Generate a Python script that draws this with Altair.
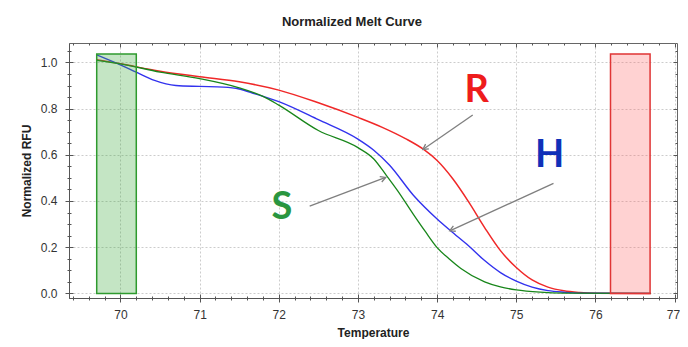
import altair as alt
import pandas as pd

FONT = "Liberation Sans"

# ---- data ----
series = ["R", "H", "S"]

red_t = [69.7, 70.0, 70.5, 71.0, 71.5, 72.0, 72.5, 73.0, 73.3, 73.6, 73.83, 74.0, 74.2, 74.4,
         74.6, 74.8, 75.0, 75.2, 75.4, 75.6, 75.8, 76.0, 76.7]
red_v = [1.012, 0.994, 0.962, 0.938, 0.916, 0.880, 0.825, 0.762, 0.720, 0.670, 0.623, 0.575,
         0.495, 0.395, 0.285, 0.185, 0.112, 0.058, 0.027, 0.011, 0.004, 0.001, 0.0]

blue_t = [69.7, 69.97, 70.2, 70.43, 70.7, 71.0, 71.3, 71.5, 71.7, 72.0, 72.5, 73.0, 73.2, 73.4,
          73.7, 74.0, 74.17, 74.4, 74.6, 74.8, 75.0, 75.2, 75.4, 75.6, 75.8, 76.7]
blue_v = [1.033, 0.994, 0.958, 0.922, 0.900, 0.896, 0.893, 0.885, 0.864, 0.830, 0.752, 0.668,
          0.620, 0.555, 0.425, 0.322, 0.271, 0.205, 0.142, 0.090, 0.053, 0.027, 0.012, 0.005,
          0.001, 0.0]

green_t = [69.7, 70.0, 70.5, 71.0, 71.5, 71.8, 72.0, 72.5, 73.0, 73.2, 73.35, 73.5, 73.7, 73.85,
           74.0, 74.15, 74.3, 74.6, 74.8, 75.0, 75.3, 75.6, 76.7]
green_v = [1.009, 0.994, 0.958, 0.930, 0.890, 0.853, 0.815, 0.705, 0.631, 0.582, 0.515, 0.445,
           0.342, 0.268, 0.198, 0.150, 0.108, 0.050, 0.028, 0.015, 0.005, 0.001, 0.0]

# analysis windows (shaded boxes)
win_name = ["low", "high"]
win_lo = [69.70, 76.19]
win_hi = [70.20, 76.69]
win_top = [1.036, 1.036]
win_bottom = [0.0, 0.0]

# annotation labels and arrows
lab_name = ["R", "H", "S"]
lab_t = [74.50, 75.42, 72.04]
lab_v = [0.876, 0.594, 0.369]
arr_t0 = [74.45, 75.47, 72.39]
arr_v0 = [0.772, 0.476, 0.378]
arr_t1 = [73.82, 74.16, 73.35]
arr_v1 = [0.623, 0.271, 0.502]
arr_angle = [235.7, 245.5, 69.3]

x_major = [70, 71, 72, 73, 74, 75, 76, 77]
x_minor = [69.4, 69.6, 69.8, 70.2, 70.4, 70.6, 70.8, 71.2, 71.4, 71.6, 71.8, 72.2, 72.4, 72.6,
           72.8, 73.2, 73.4, 73.6, 73.8, 74.2, 74.4, 74.6, 74.8, 75.2, 75.4, 75.6, 75.8, 76.2,
           76.4, 76.6, 76.8]
y_major = [0.0, 0.2, 0.4, 0.6, 0.8, 1.0]
y_minor = [0.05, 0.1, 0.15, 0.25, 0.3, 0.35, 0.45, 0.5, 0.55, 0.65, 0.7, 0.75, 0.85, 0.9, 0.95, 1.05]

# ---- tables ----
rows = []
for name, ts, vs in [("R", red_t, red_v), ("H", blue_t, blue_v), ("S", green_t, green_v)]:
    for t, v in zip(ts, vs):
        rows.append({"s": name, "t": t, "v": v})
df = pd.DataFrame(rows)

dfw = pd.DataFrame({"w": win_name, "x1": win_lo, "x2": win_hi, "yt": win_top, "yb": win_bottom})
dfl = pd.DataFrame({"lab": lab_name, "t": lab_t, "v": lab_v})
dfa = pd.DataFrame({"lab": lab_name, "t0": arr_t0, "v0": arr_v0, "t1": arr_t1, "v1": arr_v1,
                    "ang": arr_angle})

xs = alt.Scale(domain=[69.35, 77.03], nice=False, zero=False)
ys = alt.Scale(domain=[-0.020, 1.084], nice=False, zero=False)

TICK = "#555555"
GRID = "#cccccc"
AX = dict(labelFont=FONT, labelFontSize=12, labelColor="#333333", titleFont=FONT,
          titleFontSize=12, titleFontWeight="bold", titleColor="#222222",
          domainColor=TICK, tickColor=TICK)

lines = alt.Chart(df).mark_line(interpolate="monotone").encode(
    x=alt.X("t:Q", scale=xs, axis=alt.Axis(orient="bottom", values=x_major, format="d", grid=True,
                                           gridDash=[2, 2], gridColor=GRID, tickSize=4,
                                           labelPadding=7, labelFlush=3, labelFlushOffset=5,
                                           title="Temperature", titlePadding=7, **AX)),
    y=alt.Y("v:Q", scale=ys, axis=alt.Axis(orient="left", values=y_major, format=".1f", grid=True,
                                           gridDash=[2, 2], gridColor=GRID, tickSize=4,
                                           labelPadding=8, title="Normalized RFU", titlePadding=7, **AX)),
    color=alt.Color("s:N", scale=alt.Scale(domain=series, range=["#f02828", "#3232ee", "#18861a"]),
                    legend=None),
    strokeWidth=alt.StrokeWidth("s:N", scale=alt.Scale(domain=series, range=[1.5, 1.3, 3.0]),
                                legend=None),
)


def tick_layer(xorient, yorient, xvals, yvals, size, offset):
    return alt.Chart(df).mark_line(opacity=0).encode(
        x=alt.X("t:Q", scale=xs, axis=alt.Axis(orient=xorient, values=xvals, labels=False, domain=False,
                                               grid=False, tickSize=size, offset=offset,
                                               tickColor=TICK, title=None)),
        y=alt.Y("v:Q", scale=ys, axis=alt.Axis(orient=yorient, values=yvals, labels=False, domain=False,
                                               grid=False, tickSize=size, offset=offset,
                                               tickColor=TICK, title=None)),
    )


ticks = [
    tick_layer("bottom", "left", x_minor, y_minor, 2, 0),
    tick_layer("bottom", "left", x_major, y_major, 4, -4),
    tick_layer("bottom", "left", x_minor, y_minor, 2, -2),
    tick_layer("top", "right", x_major, y_major, 4, -4),
    tick_layer("top", "right", x_minor, y_minor, 2, -2),
]

rects = alt.Chart(dfw).mark_rect(strokeWidth=1.5, fillOpacity=0.3).encode(
    x=alt.X("x1:Q", scale=xs, axis=None),
    x2="x2:Q",
    y=alt.Y("yt:Q", scale=ys, axis=None),
    y2="yb:Q",
    fill=alt.Fill("w:N", scale=alt.Scale(domain=win_name, range=["#3aaa3a", "#ff6a6a"]), legend=None),
    stroke=alt.Stroke("w:N", scale=alt.Scale(domain=win_name, range=["#2e9a2e", "#e03535"]), legend=None),
)

arrows = alt.Chart(dfa).mark_rule(color="#7f7f7f", strokeWidth=1.3).encode(
    x=alt.X("t0:Q", scale=xs, axis=None),
    y=alt.Y("v0:Q", scale=ys, axis=None),
    x2="t1:Q",
    y2="v1:Q",
)

heads = alt.Chart(dfa).mark_point(shape="M -0.55 1 L 0 0 L 0.55 1", filled=False, size=110,
                                  color="#7f7f7f", strokeWidth=1.3, opacity=1).encode(
    x=alt.X("t1:Q", scale=xs, axis=None),
    y=alt.Y("v1:Q", scale=ys, axis=None),
    angle=alt.Angle("ang:Q", scale=None),
)

texts = alt.Chart(dfl).mark_text(font="Lato", fontWeight="bold", fontSize=38, baseline="middle",
                                 align="center").encode(
    x=alt.X("t:Q", scale=xs, axis=None),
    y=alt.Y("v:Q", scale=ys, axis=None),
    text="lab:N",
    color=alt.Color("lab:N", scale=alt.Scale(domain=lab_name, range=["#ee1c1c", "#1030b8", "#2a9640"]),
                    legend=None),
)

chart = alt.layer(lines, *ticks, rects, arrows, heads, texts).resolve_axis(
    x="independent", y="independent"
).resolve_scale(
    color="independent", fill="independent", stroke="independent"
).properties(
    width=608, height=255,
    title=alt.TitleParams("Normalized Melt Curve", font=FONT, fontSize=13, fontWeight="bold",
                          color="#222222", anchor="middle", dx=-21, offset=4, frame="group",
                          baseline="alphabetic"),
    autosize=alt.AutoSizeParams(type="none"),
    padding={"left": 61, "top": 35, "right": 3, "bottom": 41},
    background="white",
).configure_view(stroke="#666666", strokeWidth=1)

chart.save("out.html", embed_options={"renderer": "svg", "actions": False})
